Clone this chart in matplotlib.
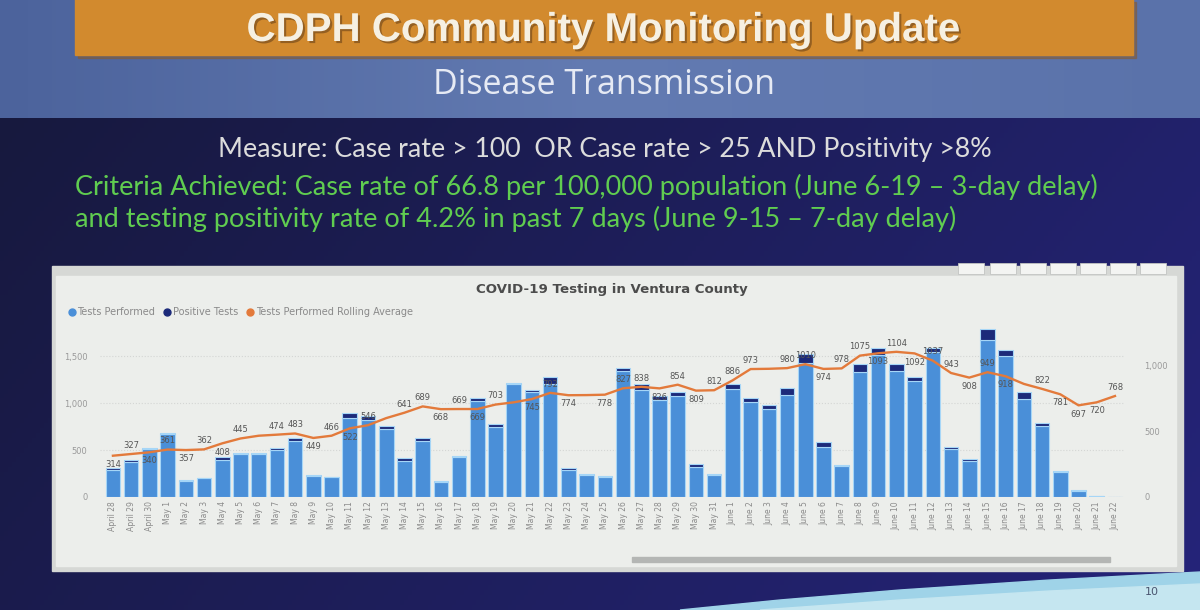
import numpy as np
import matplotlib.pyplot as plt
import matplotlib.patheffects as pe
from matplotlib.patches import Rectangle, Polygon
from matplotlib.lines import Line2D

days = ["April 28", "April 29", "April 30"] + ["May %d" % d for d in range(1, 32)] + ["June %d" % d for d in range(1, 23)]

# light part of each bar (tests performed) and the dark cap (positive tests)
tests = [285, 375, 510,
         675, 173, 198, 391, 457, 455, 496, 592, 224, 209,
         843, 817, 725, 384, 599, 160, 428, 1022, 750, 1197,
         1113, 1197, 285, 229, 213, 1337, 1139, 1034, 1077, 323, 231,
         1149, 1010, 936, 1086, 1428, 535, 327, 1332, 1512, 1339,
         1237, 1545, 506, 378, 1674, 1501, 1041, 751, 267, 66,
         13, 0]
positive = [25, 15, 10,
            10, 8, 8, 35, 8, 10, 30, 40, 10, 8,
            55, 45, 30, 35, 25, 10, 8, 35, 30, 20,
            25, 80, 20, 20, 10, 40, 60, 40, 40, 25, 10,
            50, 40, 40, 70, 90, 50, 10, 80, 70, 80,
            40, 40, 30, 30, 110, 60, 80, 40, 10, 5,
            2, 0]
rolling = [314, 327, 340,
           361, 357, 362, 408, 445, 466, 474, 483, 449, 466,
           522, 546, 600, 641, 689, 668, 669, 669, 703, 720,
           745, 792, 774, 775, 778, 827, 838, 826, 854, 809, 812,
           886, 973, 975, 980, 1010, 974, 978, 1075, 1093, 1104,
           1092, 1037, 943, 908, 949, 918, 860, 822, 781, 697,
           720, 768]

# where each line label sits: a = above, b = below, x = hidden
label_side = "babababaxa" + "ababaxaaba" + "baxbabxbaa" + "babaaaxaab" + "aababaabab" + "xabbba"

W, H = 1200, 610
fig = plt.figure(figsize=(12, 6.1), dpi=100)

# ---------- slide background, drawn in pixel coordinates
bg = fig.add_axes([0, 0, 1, 1])
bg.set_xlim(0, W)
bg.set_ylim(H, 0)
bg.axis("off")


def hexrgb(h):
    h = h.lstrip("#")
    return np.array([int(h[i:i + 2], 16) / 255 for i in (0, 2, 4)])


t = np.linspace(0, 1, 300)
c1, c2, c3 = hexrgb("#4c639c"), hexrgb("#637bb2"), hexrgb("#5a72aa")
top = np.where(t[:, None] < 0.5, c1 + (c2 - c1) * (t[:, None] / 0.5), c2 + (c3 - c2) * ((t[:, None] - 0.5) / 0.5))
bg.imshow(top[None, :, :], extent=(0, W, 118, 0), aspect="auto")

d1, d2 = hexrgb("#17193e"), hexrgb("#25247a")
gx = np.linspace(0, 1, 300)[None, :, None]
gy = np.linspace(0, 1, 100)[:, None, None]
dark = d1 + (d2 - d1) * (0.75 * gx + 0.25 * gy)
bg.imshow(dark, extent=(0, W, H, 118), aspect="auto")

# bottom right swoosh
bg.add_patch(Polygon([(680, 610), (780, 600), (900, 590), (1050, 580), (1200, 572), (1200, 610)],
                     closed=True, color="#9fd3e8", zorder=2))
bg.add_patch(Polygon([(760, 610), (900, 600), (1050, 591), (1200, 584), (1200, 610)],
                     closed=True, color="#c5e6f0", zorder=2))

# orange banner
bg.add_patch(Rectangle((78, 2), 1058, 56, color="#8a5a26", alpha=0.5, zorder=2))
bg.add_patch(Rectangle((75, -2), 1058, 57, color="#d28a2e", zorder=3))
bg.text(603, 30, "CDPH Community Monitoring Update", ha="center", va="center",
        fontsize=29, fontweight="bold", family="Liberation Sans", color="#f6f0e2", zorder=4,
        path_effects=[pe.withSimplePatchShadow(offset=(1.5, -1.5), shadow_rgbFace="#7a4e1c", alpha=0.7)])
bg.text(604, 85, "Disease Transmission", ha="center", va="center",
        fontsize=24.5, family="Open Sans", color="#e6eaf4", zorder=4)

bg.text(605, 150, "Measure: Case rate > 100  OR Case rate > 25 AND Positivity >8%", ha="center", va="center",
        fontsize=19.3, family="Lato", color="#dcdcdc", zorder=4)
bg.text(75, 187, "Criteria Achieved: Case rate of 66.8 per 100,000 population (June 6-19 \u2013 3-day delay)",
        ha="left", va="center", fontsize=19.5, family="Lato", color="#60cd50", zorder=4)
bg.text(75, 219, "and testing positivity rate of 4.2% in past 7 days (June 9-15 \u2013 7-day delay)",
        ha="left", va="center", fontsize=19.5, family="Lato", color="#60cd50", zorder=4)

# chart panel
bg.add_patch(Rectangle((52, 266), 1131, 305, color="#d6d8d5", zorder=2))
bg.add_patch(Rectangle((56, 276), 1120, 290, color="#eceeeb", zorder=3))
bg.add_patch(Rectangle((632, 557), 478, 5, color="#b4b6b4", zorder=4))
for bx in [958, 990, 1020, 1050, 1080, 1110, 1140]:
    bg.add_patch(Rectangle((bx, 263), 26, 11, facecolor="#f3f4f2", edgecolor="#c2c4c2", lw=0.6, zorder=4))

bg.text(612, 290, "COVID-19 Testing in Ventura County", ha="center", va="center",
        fontsize=9.6, fontweight="bold", color="#4c4c4c", zorder=5)
bg.text(1152, 592, "10", ha="center", va="center", fontsize=8, color="#4a5570", zorder=5)

# ---------- chart
ax = fig.add_axes([100 / W, 1 - 497 / H, 1025 / W, 172 / H])
ax.set_zorder(5)
ax.patch.set_visible(False)
x = np.arange(len(days))
ax.bar(x, tests, width=0.8, color="#4a8fd8", edgecolor="#a6d6f7", linewidth=0.8)
ax.bar(x, positive, bottom=tests, width=0.8, color="#1c2a7a", edgecolor="#a6d6f7", linewidth=0.8)
ax.set_xlim(-0.71, 55.55)
ax.set_ylim(0, 1830)
ax.set_yticks([0, 500, 1000, 1500])
ax.set_yticklabels(["0", "500", "1,000", "1,500"])
ax.yaxis.grid(True, color="#d4d6d4", ls=":", lw=0.8)
ax.set_axisbelow(True)
ax.set_xticks(x)
ax.set_xticklabels(days, rotation=90, fontsize=5.5, color="#8a8a8a")
ax.tick_params(axis="y", length=0, pad=9, labelsize=6, labelcolor="#9a9a9a")
ax.tick_params(axis="x", length=0, pad=3)
for s in ax.spines.values():
    s.set_visible(False)

ax2 = ax.twinx()
ax2.plot(x, rolling, color="#e37a3b", lw=1.7, zorder=3)
ax2.set_ylim(0, 1308)
ax2.set_yticks([0, 500, 1000])
ax2.set_yticklabels(["0", "500", "1,000"])
ax2.tick_params(axis="y", length=0, pad=14, labelsize=6, labelcolor="#9a9a9a")
for s in ax2.spines.values():
    s.set_visible(False)
for i, v in enumerate(rolling):
    side = label_side[i]
    if side == "x":
        continue
    dy = 3 if side == "a" else -3
    ax2.annotate(str(v), (i, v), xytext=(0, dy), textcoords="offset points", ha="center",
                 va="bottom" if side == "a" else "top", fontsize=6, color="#555555")

handles = [Line2D([], [], ls="", marker="o", ms=5, color="#4a8fd8"),
           Line2D([], [], ls="", marker="o", ms=5, color="#1c2a7a"),
           Line2D([], [], ls="", marker="o", ms=5, color="#e37a3b")]
fig.legend(handles, ["Tests Performed", "Positive Tests", "Tests Performed Rolling Average"],
           loc="center left", bbox_to_anchor=(58 / W, 1 - 312 / H), ncol=3, frameon=False,
           fontsize=7, labelcolor="#8a8a8a", handletextpad=0.1, columnspacing=0.7, handlelength=1)

fig.savefig("out.png", dpi=100)
